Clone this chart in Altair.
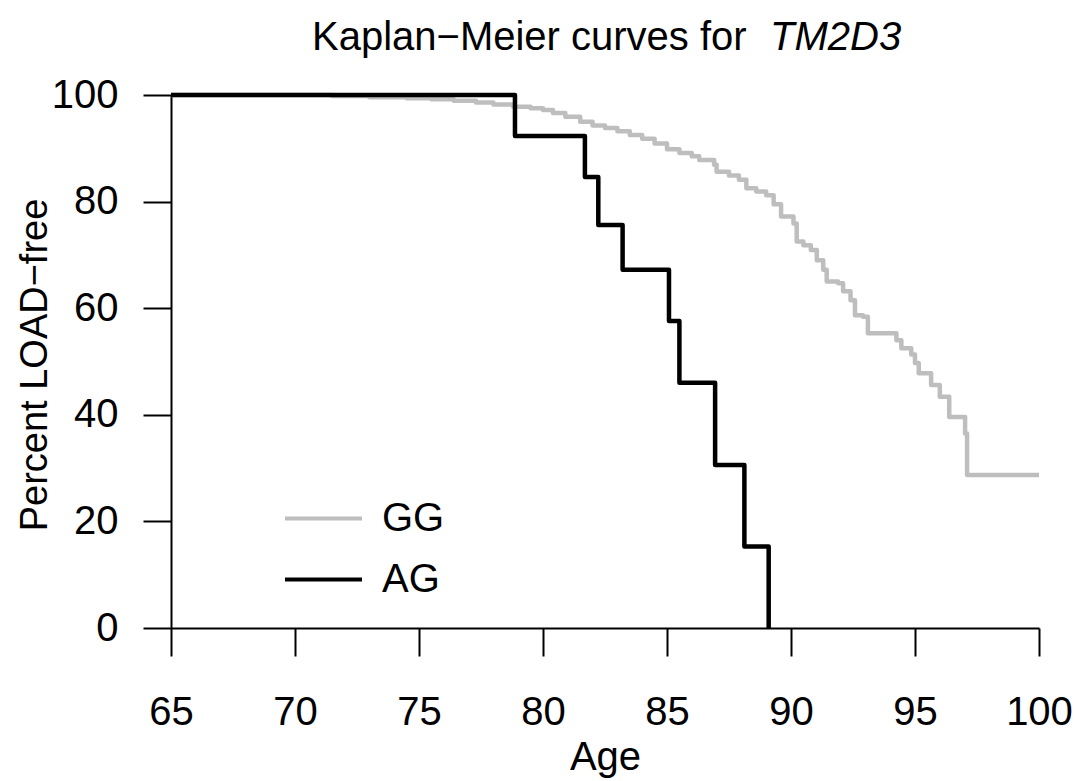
import altair as alt
import pandas as pd

# ---- data ----
gg_age = [65.0, 71.5, 73.0, 74.5, 75.5, 76.4, 77.3, 78.0, 78.8, 79.5, 80.0, 80.4,
          80.9, 81.5, 82.0, 82.5, 83.0, 83.5, 84.0, 84.5, 85.0, 85.5, 86.0, 86.3,
          86.9, 87.0, 87.5, 87.9, 88.2, 88.6, 89.0, 89.3, 89.6, 90.1, 90.23, 90.5,
          90.8, 91.04, 91.3, 91.44, 91.9, 92.1, 92.4, 92.58, 92.9, 93.1, 94.25,
          94.45, 94.85, 95.0, 95.15, 95.65, 96.0, 96.38, 97.02, 97.1, 100.0]
gg_pct = [100.0, 99.8, 99.6, 99.4, 99.2, 98.9, 98.6, 98.2, 97.8, 97.5, 97.2, 96.6,
          95.9, 95.0, 94.3, 93.8, 93.2, 92.5, 91.8, 90.9, 89.8, 89.1, 88.5, 87.8,
          86.9, 85.6, 84.9, 84.1, 82.5, 81.9, 81.2, 79.5, 77.2, 75.9, 72.5, 71.8,
          70.9, 69.0, 67.2, 65.0, 64.7, 63.2, 61.5, 58.7, 58.4, 55.3, 54.0,
          52.5, 51.3, 49.7, 47.8, 45.6, 43.4, 39.6, 36.5, 28.7, 28.7]

ag_age = [65.0, 78.87, 81.69, 82.23, 83.21, 85.08, 85.5, 86.94, 88.12, 89.1]
ag_pct = [100.0, 92.3, 84.6, 75.6, 67.2, 57.6, 46.0, 30.6, 15.3, 0.0]

groups = ["GG", "AG"]
group_colors = ["#bebebe", "#000000"]
x_ticks = [65, 70, 75, 80, 85, 90, 95, 100]
y_ticks = [0, 20, 40, 60, 80, 100]
title_main = ["Kaplan\u2212Meier curves for"]
title_gene = ["TM2D3"]
x_title = "Age"
y_title = "Percent LOAD\u2212free"

FONT = "Liberation Sans"
FS = 40

df = pd.concat([
    pd.DataFrame({"age": gg_age, "pct": gg_pct, "group": "GG"}),
    pd.DataFrame({"age": ag_age, "pct": ag_pct, "group": "AG"}),
], ignore_index=True)

W, H = 868, 533

color = alt.Color(
    "group:N",
    scale=alt.Scale(domain=groups, range=group_colors),
    legend=alt.Legend(
        title=None, orient="none", legendX=112, legendY=383,
        direction="vertical", symbolType="stroke", symbolSize=5929,
        symbolStrokeWidth=4, labelFont=FONT, labelFontSize=FS,
        labelColor="black", labelOffset=18, rowPadding=-6, padding=0,
    ),
)

x = alt.X("age:Q", scale=alt.Scale(domain=[65, 100], nice=False, zero=False),
          axis=alt.Axis(values=x_ticks, title=x_title, grid=False,
                        tickSize=28, tickWidth=2, tickColor="black",
                        domainWidth=2, domainColor="black",
                        labelFont=FONT, labelFontSize=FS, labelColor="black",
                        labelPadding=36, labelFlush=False, labelOverlap=False,
                        titleFont=FONT, titleFontSize=FS, titleColor="black",
                        titleFontWeight="normal", titleX=W / 2, titleY=141,
                        titleBaseline="alphabetic", titleAlign="center"))
y = alt.Y("pct:Q", scale=alt.Scale(domain=[0, 100], nice=False),
          axis=alt.Axis(values=y_ticks, title=y_title, grid=False,
                        tickSize=28, tickWidth=2, tickColor="black",
                        domainWidth=2, domainColor="black",
                        labelFont=FONT, labelFontSize=FS, labelColor="black",
                        labelPadding=25, labelFlush=False, labelOverlap=False,
                        titleFont=FONT, titleFontSize=38, titleColor="black",
                        titleFontWeight="normal", titleX=-125, titleY=H / 2 + 3,
                        titleAngle=270, titleBaseline="alphabetic",
                        titleAlign="center"))

base = alt.Chart(df).mark_line(interpolate="step-after", strokeWidth=4.5,
                                strokeJoin="round", strokeCap="butt")
gg_layer = base.transform_filter(alt.datum.group == "GG").encode(x=x, y=y, color=color)
ag_layer = base.transform_filter(alt.datum.group == "AG").encode(x=x, y=y, color=color)

t1 = alt.Chart(pd.DataFrame({"t": title_main})).mark_text(
    align="left", baseline="alphabetic", font=FONT, fontSize=FS, color="black"
).encode(text="t:N", x=alt.value(141), y=alt.value(-45.5))
t2 = alt.Chart(pd.DataFrame({"t": title_gene})).mark_text(
    align="left", baseline="alphabetic", font=FONT, fontSize=FS, fontStyle="italic",
    color="black"
).encode(text="t:N", x=alt.value(599), y=alt.value(-45.5))

chart = alt.layer(gg_layer, ag_layer, t1, t2).properties(
    width=W, height=H,
    autosize=alt.AutoSizeParams(type="none"),
    padding={"left": 163, "top": 87, "right": 35, "bottom": 150},
    background="white",
).configure_view(stroke=None)

chart.save("out.html", embed_options={"renderer": "svg", "actions": False})
